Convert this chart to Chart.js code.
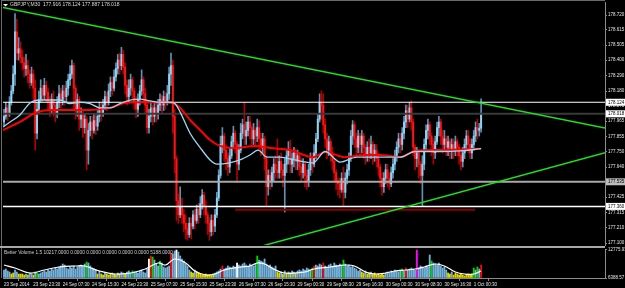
<!DOCTYPE html>
<html>
<head>
<meta charset="utf-8">
<script src="https://cdn.jsdelivr.net/npm/chart.js"></script>
<style>
  html, body { margin: 0; padding: 0; background: #000; }
  body { width: 625px; height: 288px; position: relative; overflow: hidden; }
  canvas { position: absolute; left: 0; }
  #priceChart { top: 0; }
  #volumeChart { top: 246px; }
</style>
</head>
<body>
<canvas id="priceChart" width="625" height="246"></canvas>
<canvas id="volumeChart" width="625" height="42"></canvas>
<script>
// ---- data ----
var symbolTitle = 'GBPJPY,M30';
var headerOHLC = [177.916, 178.124, 177.887, 178.018];

var timeLabels = ['23 Sep 2014', '23 Sep 23:30', '24 Sep 07:30', '24 Sep 15:30', '24 Sep 23:30',
  '25 Sep 07:30', '25 Sep 15:30', '25 Sep 23:30', '26 Sep 07:30', '26 Sep 15:30', '29 Sep 00:30',
  '29 Sep 08:30', '29 Sep 16:30', '30 Sep 00:30', '30 Sep 08:30', '30 Sep 16:30', '1 Oct 00:30'];
var labelBars = [0, 16, 32, 48, 64, 80, 96, 112, 128, 144, 160, 176, 192, 208, 224, 240, 256];

var priceTicks = [177.100, 177.210, 177.315, 177.425, 177.535, 177.640, 177.750, 177.855,
  177.965, 178.075, 178.180, 178.290, 178.400, 178.505, 178.615, 178.720];

var firstOpen = 177.96;
var closes = [
  178.00,178.06,178.02,178.10,178.18,178.30,178.60,178.45,178.48,178.42,
  178.38,178.34,178.36,178.30,178.24,178.30,178.20,177.88,178.05,178.12,
  178.20,178.15,178.22,178.17,178.10,178.05,178.12,178.08,178.02,178.10,
  178.16,178.12,178.18,178.14,178.20,178.26,178.30,178.36,178.20,178.05,
  178.12,177.98,178.02,177.92,177.98,177.76,177.90,177.96,177.90,177.97,
  177.93,178.00,178.06,178.02,178.08,178.14,178.10,178.18,178.24,178.20,
  178.28,178.34,178.40,178.36,178.44,178.35,178.22,178.14,178.20,178.26,
  178.18,178.10,178.05,178.12,178.18,178.26,178.16,178.08,177.92,178.00,
  178.06,178.00,178.06,178.02,178.08,178.12,178.08,178.14,178.10,178.16,
  178.30,178.36,178.00,177.70,177.40,177.30,177.36,177.30,177.24,177.20,
  177.16,177.24,177.22,177.30,177.26,177.34,177.30,177.38,177.44,177.36,
  177.30,177.24,177.18,177.26,177.22,177.30,177.42,177.58,177.80,177.86,
  177.76,177.70,177.64,177.72,177.82,177.88,177.80,177.66,177.76,177.88,
  177.94,177.86,177.90,177.96,177.92,177.84,177.90,177.86,177.92,177.84,
  177.78,177.84,177.70,177.50,177.58,177.54,177.60,177.66,177.62,177.60,
  177.68,177.62,177.58,177.66,177.72,177.76,177.66,177.70,177.74,177.68,
  177.72,177.64,177.60,177.66,177.58,177.54,177.62,177.70,177.66,177.74,
  177.84,177.98,178.10,178.08,177.94,177.84,177.76,177.82,177.74,177.68,
  177.60,177.54,177.52,177.48,177.56,177.46,177.56,177.62,177.70,177.86,
  177.94,177.84,177.78,177.86,177.80,177.86,177.78,177.72,177.78,177.74,
  177.80,177.72,177.76,177.70,177.64,177.56,177.50,177.56,177.62,177.56,
  177.52,177.60,177.66,177.72,177.78,177.84,177.80,177.88,177.96,178.04,
  177.98,178.06,177.96,177.78,177.70,177.74,177.66,177.58,177.66,177.80,
  177.90,177.94,177.86,177.80,177.74,177.82,177.92,177.96,177.86,177.80,
  177.84,177.78,177.82,177.76,177.80,177.76,177.82,177.78,177.72,177.68,
  177.74,177.80,177.86,177.80,177.74,177.80,177.86,177.92,177.90,177.916,178.018];
var highs = [
  178.05,178.10,178.08,178.14,178.22,178.36,178.73,178.69,178.56,178.53,
  178.47,178.42,178.44,178.40,178.33,178.35,178.33,178.26,178.10,178.18,
  178.26,178.22,178.27,178.25,178.20,178.14,178.16,178.18,178.10,178.14,
  178.22,178.20,178.22,178.22,178.25,178.30,178.36,178.40,178.38,178.22,
  178.16,178.14,178.06,178.04,178.02,178.00,177.95,178.00,178.00,178.02,
  178.01,178.05,178.10,178.10,178.12,178.18,178.17,178.23,178.28,178.28,
  178.33,178.38,178.44,178.45,178.49,178.47,178.38,178.26,178.26,178.30,
  178.28,178.20,178.14,178.16,178.22,178.33,178.28,178.20,178.10,178.05,
  178.10,178.08,178.10,178.10,178.12,178.16,178.15,178.18,178.17,178.22,
  178.35,178.45,178.40,178.05,177.72,177.45,177.50,177.42,177.34,177.30,
  177.24,177.28,177.28,177.33,177.34,177.37,177.38,177.43,177.48,177.46,
  177.40,177.32,177.28,177.30,177.30,177.34,177.46,177.62,177.86,177.92,
  177.88,177.80,177.74,177.77,177.86,177.93,177.90,177.82,177.80,177.95,
  177.98,178.10,177.96,178.00,178.00,177.94,177.95,177.92,177.98,177.97,
  177.88,177.88,177.86,177.72,177.62,177.62,177.64,177.70,177.72,177.84,
  177.72,177.74,177.66,177.70,177.76,177.82,177.83,177.74,177.78,177.77,
  177.76,177.74,177.70,177.70,177.68,177.62,177.66,177.74,177.74,177.80,
  177.88,178.02,178.16,178.18,178.16,177.98,177.88,177.86,177.84,177.78,
  177.70,177.62,177.56,177.56,177.60,177.64,177.60,177.66,177.74,177.90,
  177.97,177.96,177.88,177.90,177.88,177.90,177.88,177.80,177.82,177.84,
  177.86,177.82,177.80,177.80,177.74,177.66,177.60,177.60,177.66,177.66,
  177.60,177.64,177.70,177.76,177.82,177.88,177.88,177.92,178.00,178.08,
  178.08,178.10,178.11,177.98,177.80,177.78,177.76,177.68,177.72,177.84,
  177.94,177.98,177.96,177.88,177.84,177.86,177.96,178.00,177.98,177.90,
  177.90,177.86,177.86,177.84,177.84,177.84,177.86,177.84,177.80,177.76,
  177.78,177.84,177.90,177.90,177.84,177.84,177.90,177.96,177.98,177.95,178.124];
var lows = [
  177.93,177.98,177.97,178.00,178.08,178.16,178.22,178.40,178.40,178.38,
  178.33,178.28,178.29,178.24,178.20,178.22,178.12,177.76,177.84,178.02,
  178.10,178.10,178.12,178.10,178.04,178.00,178.02,178.00,177.96,177.99,
  178.06,178.06,178.08,178.08,178.10,178.15,178.22,178.27,178.05,177.98,
  178.00,177.90,177.92,177.85,177.88,177.62,177.66,177.86,177.84,177.88,
  177.87,177.90,177.96,177.97,178.00,178.05,178.04,178.08,178.14,178.15,
  178.18,178.25,178.30,178.30,178.33,178.30,178.16,178.08,178.10,178.15,
  178.12,178.05,177.99,178.00,178.08,178.15,178.10,178.02,177.88,177.88,
  177.96,177.94,177.96,177.96,177.98,178.04,178.02,178.04,178.05,178.08,
  178.12,178.22,177.88,177.60,177.26,177.24,177.28,177.24,177.18,177.13,
  177.12,177.14,177.13,177.20,177.20,177.24,177.24,177.28,177.34,177.30,
  177.24,177.16,177.12,177.15,177.16,177.18,177.28,177.40,177.56,177.74,
  177.68,177.62,177.58,177.60,177.70,177.78,177.74,177.53,177.62,177.74,
  177.84,177.80,177.80,177.86,177.84,177.78,177.80,177.78,177.82,177.76,
  177.72,177.74,177.62,177.36,177.44,177.48,177.50,177.54,177.56,177.56,
  177.56,177.56,177.50,177.32,177.60,177.66,177.60,177.60,177.64,177.62,
  177.62,177.58,177.54,177.56,177.50,177.48,177.50,177.58,177.60,177.64,
  177.70,177.82,177.96,177.98,177.88,177.78,177.70,177.72,177.68,177.62,
  177.54,177.48,177.44,177.42,177.46,177.36,177.42,177.52,177.58,177.68,
  177.80,177.78,177.72,177.74,177.72,177.74,177.70,177.66,177.68,177.68,
  177.70,177.66,177.68,177.64,177.58,177.50,177.44,177.46,177.52,177.50,
  177.48,177.50,177.56,177.62,177.68,177.74,177.74,177.76,177.84,177.92,
  177.92,177.96,177.90,177.72,177.62,177.64,177.56,177.52,177.36,177.62,
  177.76,177.84,177.80,177.72,177.66,177.70,177.80,177.86,177.80,177.74,
  177.76,177.72,177.72,177.70,177.70,177.70,177.72,177.72,177.66,177.62,
  177.64,177.70,177.76,177.74,177.70,177.70,177.76,177.82,177.84,177.86,177.887];

// moving averages, sampled points [bar, price]
var fastMA = [[-0.5,177.924],[3.3,177.96],[8.7,178.01],[14.2,178.095],[19.6,178.116],[30.5,178.116],
  [36,178.09],[41.4,178.10],[46.9,178.09],[52.3,178.06],[57.8,178.06],[63.2,178.09],[68.7,178.116],
  [74.1,178.123],[79.6,178.11],[85,178.10],[90.5,178.10],[93.2,178.09],[96,178.03],[101.4,177.88],
  [106.8,177.78],[112.3,177.69],[116,177.66],[123,177.67],[128.6,177.69],[134,177.725],[138.4,177.76],
  [143.3,177.71],[150.4,177.71],[158.6,177.69],[168.4,177.67],[175,177.75],[183.1,177.675],
  [192.4,177.71],[205,177.71],[215.8,177.71],[224,177.75],[237.6,177.75],[248.5,177.754],[260,177.77]];
var slowMA = [[-0.5,177.903],[8.7,177.96],[16.9,178.024],[25,178.045],[36,178.045],[46.9,178.045],
  [57.8,178.06],[65.9,178.095],[74.1,178.10],[85,178.10],[91.6,178.095],[96,178.06],[101.4,177.974],
  [106.8,177.903],[112.3,177.832],[117.7,177.79],[125.9,177.775],[136.8,177.79],[145,177.775],
  [155.9,177.761],[168.4,177.71],[175,177.746],[185.8,177.71],[196.7,177.725],[205,177.725],
  [215.8,177.71],[224,177.754],[237.6,177.761],[260,177.77]];

// chart objects
var upperTrend = [[-0.545,178.7726],[327.52,177.9169]];
var lowerTrend = [[136.8,177.065],[327.52,177.7413]];
var whiteLevels = [178.100, 177.360];
var bidLevel = 178.018;
var grayLevel = 177.535;
var supportSegment = [[126,177.337],[256.7,177.337]];
var boxPrices = [178.100, 178.018, 177.535, 177.360];
var boxTexts = ['178.124', '178.018', '177.535', '177.360'];

// Better Volume
var volumeHeader = 'Better Volume 1.5';
var volumeBuffers = [10217, 0, 0, 0, 0, 0, 5188];
var volTicks = [6388.57, 12775.93];
var volumes = [
  8210,8440,7990,7760,7300,7530,8210,7760,7300,7300,
  7300,7070,7300,7070,7530,7300,7070,7760,7530,7300,
  7530,7760,7990,7760,8210,7990,8440,8210,8670,8440,
  8900,9130,9580,9350,8670,8440,8900,8670,9130,8440,
  8900,9130,9350,9130,9580,10040,9810,9130,8670,8440,
  8210,7300,7990,7300,7070,7530,7300,7070,7300,7530,
  7300,7070,7530,7300,7760,7530,7300,7760,7990,7530,
  7990,7760,7760,7530,7990,8210,7760,7530,8440,10720,
  11410,11180,10490,9580,9130,10270,9810,8900,8670,8900,
  9130,12090,11860,12550,12770,12320,11410,10720,10270,9580,
  9130,8210,7760,7530,8210,7760,7530,7300,7070,7070,
  7300,7070,7070,7070,7300,7530,7760,7990,8440,9130,
  8440,8670,9130,8900,8670,9130,8900,9810,9350,9130,
  9580,9810,9350,9130,9580,9350,9130,9580,11410,10490,
  10270,10040,10720,9580,9130,9350,8900,8670,9130,7760,
  7530,7760,7300,7990,7530,7760,7530,7990,7760,7530,
  7990,8210,7990,8440,8210,8670,8440,8210,8670,9130,
  9350,9130,9580,9350,9810,9130,8900,9350,9580,9130,
  9810,9350,9130,9580,9350,10490,9580,9130,9350,8900,
  9130,8670,8440,7990,8210,7760,7530,7990,7300,7530,
  7760,7300,7530,7070,7300,7070,7300,7070,7530,7760,
  7530,7990,7760,8210,7990,7760,8210,8440,7990,8670,
  8210,8440,8670,8440,8210,12770,8670,9130,8900,8670,
  9130,8900,11630,10270,9810,9580,9350,9810,9130,8670,
  8900,8210,7530,7300,7760,7070,7530,7300,7070,7300,
  7070,6850,7070,7300,7070,7300,8670,8210,8900,8440,9350];
// bar class: b normal, y low, g churn, r climax, w climax-churn, m climax+churn
var volType = ('bbbbyybbyy' + 'yybybbybgb' + 'bbbbbbbbbb' + 'bbbbbbbbbb' + 'bbbbbgbbbb' +
  'bybyybyyyb' + 'yybybbybbb' + 'gbbbbbbbbw' + 'rgbbbgbbbb' + 'brbbwbbbbb' +
  'bbyybyyyyy' + 'yyyyybbbbr' + 'bbbbbbbwbb' + 'bbbbbbbbgb' + 'bbbbbbbbby' +
  'ybybybybby' + 'bbbbbbbbgr' + 'bbbbrbbbbb' + 'bbbbbgbbbb' + 'bbbbbyybyy' +
  'byyyyyyybb' + 'bbbbbbbgbr' + 'bbbbbmbbbb' + 'bbbgbbbbbb' + 'bbyybyyyyy' +
  'yyyyyygbgbr').split('');
var volAvg = [[0,9350],[6,8670],[14,7530],[22,8210],[30,8900],[39,9130],[44,9130],[52,7990],
  [60,7300],[69,7530],[77,8440],[84,9810],[88,9350],[93,10720],[99,9810],[104,7990],[110,7070],
  [115,7300],[120,8210],[129,8900],[134,9130],[138,9810],[142,9580],[148,8210],[153,7530],
  [159,7530],[164,7760],[169,8440],[178,8900],[186,9350],[191,9130],[197,7760],[202,7300],
  [208,7530],[213,7990],[219,8210],[224,8440],[229,8900],[235,9580],[240,9130],[246,7760],
  [251,7300],[256,7300],[260,7990]];

// ---- layout / style ----
var X_MIN = -0.545, X_MAX = 327.52;
var FONT = 'Liberation Sans';
var AXIS_GRAY = '#8c8c8c';
var volColors = { b: '#74b0d8', y: '#e0d400', g: '#00d400', r: '#ff0000', w: '#ffffff', m: '#ff00ff' };

var opens = closes.map(function (c, i) { return i === 0 ? firstOpen : closes[i - 1]; });
function isUp(i) { return closes[i] >= opens[i]; }
function pts(arr) { return arr.map(function (p) { return { x: p[0], y: p[1] }; }); }
function level(p) { return [{ x: X_MIN, y: p }, { x: X_MAX, y: p }]; }
function lineDs(data, color, width, order, extra) {
  return Object.assign({ type: 'line', data: data, borderColor: color, borderWidth: width,
    pointRadius: 0, fill: false, order: order }, extra || {});
}

var priceOverlay = {
  id: 'priceOverlay',
  afterDraw: function (chart) {
    var ctx = chart.ctx, area = chart.chartArea, y = chart.scales.y;
    ctx.save();
    ctx.strokeStyle = '#6a6a6a';
    ctx.lineWidth = 1;
    ctx.beginPath();
    ctx.moveTo(1.5, 0); ctx.lineTo(1.5, chart.height);
    ctx.moveTo(1, 0.5); ctx.lineTo(area.right, 0.5);
    ctx.stroke();
    // header
    ctx.fillStyle = '#ffffff';
    ctx.beginPath(); ctx.moveTo(3, 4); ctx.lineTo(8, 4); ctx.lineTo(5.5, 6.5); ctx.closePath(); ctx.fill();
    ctx.fillStyle = '#dcdcdc';
    ctx.font = '5px "' + FONT + '"';
    ctx.textBaseline = 'middle';
    ctx.fillText(symbolTitle + '  ' + headerOHLC.map(function (v) { return v.toFixed(3); }).join(' '), 10, 5);
    // price boxes on the axis
    ctx.font = '4.5px "' + FONT + '"';
    boxPrices.forEach(function (p, k) {
      var py = y.getPixelForValue(p);
      ctx.fillStyle = k === 2 ? '#bdbdbd' : '#ffffff';
      ctx.fillRect(area.right + 1, py - 3.5, 19, 7);
      ctx.fillStyle = '#000000';
      ctx.fillText(boxTexts[k], area.right + 3, py + 0.3);
    });
    ctx.restore();
  }
};

new Chart(document.getElementById('priceChart'), {
  type: 'bar',
  data: {
    datasets: [
      { data: closes.map(function (c, i) { return { x: i, y: [lows[i], highs[i]] }; }),
        barThickness: 1, grouped: false, order: 11,
        backgroundColor: function (c) { return isUp(c.dataIndex) ? '#5f93b2' : '#b00000'; } },
      { data: closes.map(function (c, i) { return { x: i, y: [opens[i], c] }; }),
        barThickness: 1.3, grouped: false, minBarLength: 1, order: 10,
        backgroundColor: function (c) { return isUp(c.dataIndex) ? '#8fd3f5' : '#ff1414'; } },
      lineDs(level(bidLevel), '#3a3a3a', 2, 9),
      lineDs(level(grayLevel), '#a8a8a8', 2, 3),
      lineDs(level(whiteLevels[0]), '#ffffff', 1, 3),
      lineDs(level(whiteLevels[1]), '#ffffff', 1.5, 3),
      lineDs(pts(supportSegment), '#8b0000', 2, 4),
      lineDs(pts(slowMA), '#ff0000', 2, 2, { cubicInterpolationMode: 'monotone' }),
      lineDs(pts(fastMA), '#9fd6f2', 1.3, 1, { cubicInterpolationMode: 'monotone' }),
      lineDs(pts(upperTrend), '#1ee01e', 1.5, 1),
      lineDs(pts(lowerTrend), '#1ee01e', 1.5, 1)
    ]
  },
  options: {
    animation: false,
    responsive: false,
    devicePixelRatio: 1,
    layout: { padding: { left: 3, top: 2, right: 0, bottom: 1 } },
    plugins: { legend: { display: false }, tooltip: { enabled: false } },
    scales: {
      x: { type: 'linear', min: X_MIN, max: X_MAX, offset: false, display: false },
      y: {
        position: 'right', min: 177.0858, max: 178.8124,
        afterBuildTicks: function (s) { s.ticks = priceTicks.map(function (v) { return { value: v }; }); },
        afterFit: function (s) { s.width = 20; s.paddingTop = 0; s.paddingBottom = 0; },
        ticks: { autoSkip: false, color: '#e6e6e6', padding: 1, font: { family: FONT, size: 4.5 },
          callback: function (v) { return v.toFixed(3); } },
        grid: { drawOnChartArea: false, tickLength: 2, color: AXIS_GRAY },
        border: { color: AXIS_GRAY }
      }
    }
  },
  plugins: [priceOverlay]
});

var volumeOverlay = {
  id: 'volumeOverlay',
  afterDraw: function (chart) {
    var ctx = chart.ctx, area = chart.chartArea;
    ctx.save();
    ctx.fillStyle = '#a8a8a8';
    ctx.fillRect(0, 0, area.right, 2);
    ctx.strokeStyle = '#6a6a6a';
    ctx.lineWidth = 1;
    ctx.beginPath(); ctx.moveTo(1.5, 2); ctx.lineTo(1.5, area.bottom); ctx.stroke();
    ctx.fillStyle = '#d0d0d0';
    ctx.font = '4.8px "' + FONT + '"';
    ctx.textBaseline = 'middle';
    ctx.fillText(volumeHeader + ' ' + volumeBuffers.map(function (v) { return v.toFixed(4); }).join(' '), 4, 7);
    ctx.restore();
  }
};

new Chart(document.getElementById('volumeChart'), {
  type: 'bar',
  data: {
    datasets: [
      { data: volumes.map(function (v, i) { return { x: i, y: v }; }),
        base: volTicks[0], barThickness: 1.2, grouped: false, order: 2,
        backgroundColor: function (c) { return volColors[volType[c.dataIndex]] || volColors.b; } },
      lineDs(pts(volAvg), '#ffffff', 1.2, 1, { tension: 0.4 })
    ]
  },
  options: {
    animation: false,
    responsive: false,
    devicePixelRatio: 1,
    layout: { padding: { left: 3, top: 3, right: 0, bottom: 0 } },
    plugins: { legend: { display: false }, tooltip: { enabled: false } },
    scales: {
      x: {
        type: 'linear', min: X_MIN, max: X_MAX, offset: false,
        afterBuildTicks: function (s) { s.ticks = labelBars.map(function (v) { return { value: v }; }); },
        afterFit: function (s) { s.height = 10; s.paddingLeft = 0; s.paddingRight = 0; },
        ticks: { autoSkip: false, maxRotation: 0, minRotation: 0, align: 'start', padding: 1,
          color: '#e6e6e6', font: { family: FONT, size: 4.5 },
          callback: function (v, i) { return timeLabels[i]; } },
        grid: { drawOnChartArea: false, tickLength: 3, color: AXIS_GRAY },
        border: { color: AXIS_GRAY }
      },
      y: {
        position: 'right', min: volTicks[0], max: 13004,
        afterBuildTicks: function (s) { s.ticks = volTicks.map(function (v) { return { value: v }; }); },
        afterFit: function (s) { s.width = 20; s.paddingTop = 0; s.paddingBottom = 0; },
        ticks: { autoSkip: false, color: '#e6e6e6', padding: 1, font: { family: FONT, size: 4.5 },
          callback: function (v) { return v.toFixed(2); } },
        grid: { drawOnChartArea: false, tickLength: 2, color: AXIS_GRAY },
        border: { color: AXIS_GRAY }
      }
    }
  },
  plugins: [volumeOverlay]
});
</script>
</body>
</html>
